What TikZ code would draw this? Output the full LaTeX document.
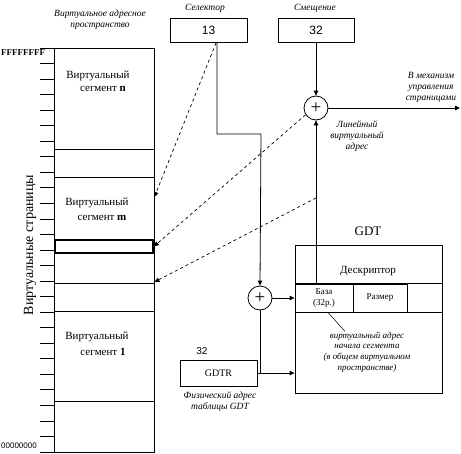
\documentclass[tikz,border=0pt]{standalone}
\usepackage{fontspec}
\setmainfont{Liberation Serif}
\newfontfamily\sansf{Liberation Sans}
\usetikzlibrary{arrows.meta}
\tikzset{
  ln/.style={line width=0.8pt},
  box/.style={draw,ln,inner sep=0pt},
  ann/.style={font=\itshape\fontsize{9.5}{11}\selectfont,align=center,inner sep=0pt},
  txt/.style={font=\fontsize{11}{13}\selectfont,align=center,inner sep=0pt},
  arr/.style={ln,-{Triangle[length=5pt,width=4.5pt]}},
  dsh/.style={line width=0.7pt,dash pattern=on 3pt off 3pt,-{Triangle[length=5pt,width=4.5pt]}},
  sumc/.style={draw,ln,circle,minimum size=24pt,inner sep=0pt,font=\fontsize{19}{19}\selectfont}
}
\begin{document}
\begin{tikzpicture}[x=1pt,y=-1pt]
\useasboundingbox (0,0) rectangle (461,453);
% virtual address space
\node[box,minimum width=100pt,minimum height=404pt] (vas) at (104,250) {};
\foreach \i in {0,...,26} {
  \draw[ln] (40,48+\i*15.54) -- (vas.west |- 0,48+\i*15.54);
}
\foreach \yy in {149,177,283,311,401} {
  \draw[ln] (vas.west |- 0,\yy) -- (vas.east |- 0,\yy);
}
\node[draw,line width=1.6pt,minimum width=98pt,minimum height=13pt,inner sep=0pt] (page) at (104,246.5) {};
\node[txt] (sn1) at (98,76) {Виртуальный};
\node[txt] (sn2) at (103,89) {сегмент \textbf{n}};
\node[txt] (sm1) at (97,203) {Виртуальный};
\node[txt] (sm2) at (102,218) {сегмент \textbf{m}};
\node[txt] (s11) at (97,337) {Виртуальный};
\node[txt] (s12) at (103,352) {сегмент \textbf{1}};
\node[font=\fontsize{9}{10}\selectfont\bfseries,inner sep=0pt] (ff) at (23,53) {FFFFFFFF};
\node[font=\sansf\fontsize{8}{10}\selectfont,inner sep=0pt] (zz) at (19,446) {00000000};
\node[rotate=90,font=\fontsize{14}{16}\selectfont,inner sep=0pt] (vp) at (30,245) {Виртуальные страницы};
\node[ann] (vast) at (100,20) {Виртуальное адресное\\пространство};
% selector and offset
\node[ann] (sell) at (205,8) {Селектор};
\node[ann] (offl) at (315,8) {Смещение};
\node[box,minimum width=77pt,minimum height=24pt,font=\sansf\fontsize{12}{12}\selectfont] (sel) at (208.5,30) {13};
\node[box,minimum width=76pt,minimum height=24pt,font=\sansf\fontsize{12}{12}\selectfont] (off) at (316,30) {32};
\node[sumc] (p1) at (316,108) {+};
\node[sumc] (p2) at (260,298) {+};
\node[ann] (outl) at (431,87) {В механизм\\управления\\страницами};
\node[ann] (linl) at (357,136) {Линейный\\виртуальный\\адрес};
\coordinate (outend) at (460,108);
% GDT
\node[font=\fontsize{13}{13}\selectfont,inner sep=0pt] (gdtl) at (368,231) {GDT};
\node[box,minimum width=147pt,minimum height=148pt] (gdt) at (368.5,319) {};
\node[box,minimum width=58pt,minimum height=28pt,font=\fontsize{9}{11}\selectfont,align=center] (base) at (324,298) {База\\(32р.)};
\node[box,minimum width=54pt,minimum height=28pt,font=\fontsize{9}{11}\selectfont] (size) at (380,298) {Размер};
\draw[ln] (gdt.west |- base.north) -- (gdt.east |- base.north);
\draw[ln] (gdt.west |- base.south) -- (gdt.east |- base.south);
\node[txt] (desc) at (368,271) {Дескриптор};
\node[ann,font=\itshape\fontsize{9}{10.8}\selectfont] (basel) at (367,352) {виртуальный адрес\\начала сегмента\\(в общем виртуальном\\пространстве)};
\draw[line width=0.5pt] (base.south) ++(4,0) coordinate (bs) -- (basel.north -| 345,0);
% GDTR
\node[box,minimum width=77pt,minimum height=26pt,font=\fontsize{10}{12}\selectfont] (gdtr) at (218.5,373) {GDTR};
\node[font=\sansf\fontsize{10}{12}\selectfont,inner sep=0pt] (g32) at (202,351) {32};
\node[ann] (gdtrl) at (220,402) {Физический адрес\\таблицы GDT};
% connectors
\coordinate (selout) at (217,42);
\coordinate (bend) at (261,134);
\draw[arr] (selout) |- (bend) -- (p2.north);
\draw[arr] (off.south) -- (p1.north);
\coordinate (basetop) at (316,284);
\draw[arr] (basetop) -- (p1.south);
\draw[arr] (p1.east) -- (outend);
\draw[arr] (p2.east) -- (gdt.west |- p2.east);
\coordinate (jn) at (260,373);
\draw[arr] (gdtr.east) -- (gdt.west |- gdtr.east);
\draw[ln] (jn) -- (p2.south);
% dashed
\coordinate (c3) at (316,198);
\draw[dsh] (216,43) -- (vas.east |- 0,197);
\draw[dsh] (p1.213) -- (page.east);
\draw[dsh] (c3) -- (vas.east |- 0,282);
\end{tikzpicture}
\end{document}
